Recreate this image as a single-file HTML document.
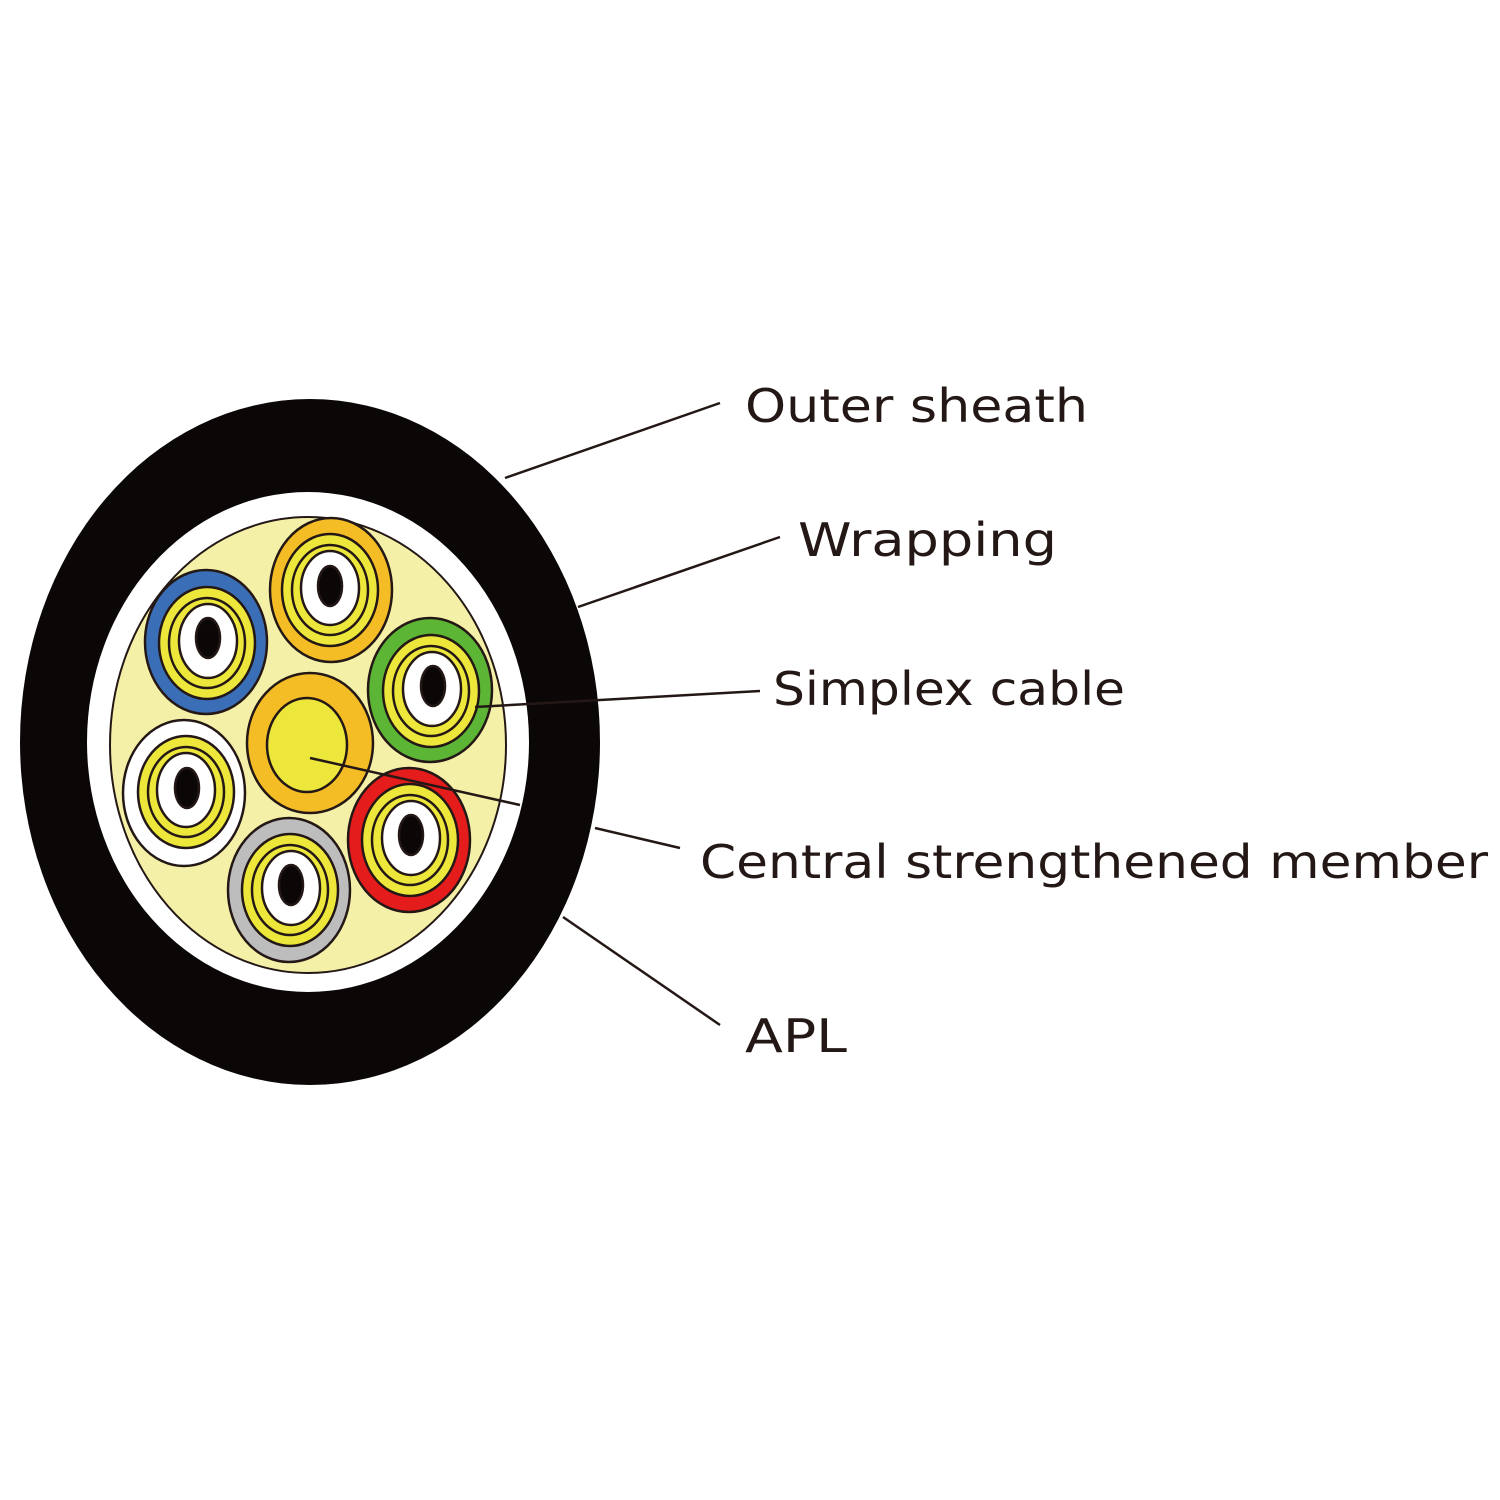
<!DOCTYPE html>
<html><head><style>body{margin:0;background:#fff}svg{display:block}</style></head><body>
<svg width="1500" height="1500" viewBox="0 0 1500 1500" xmlns="http://www.w3.org/2000/svg">
<ellipse cx="310" cy="742" rx="290" ry="343" fill="#0b0707"/>
<ellipse cx="308" cy="742" rx="221" ry="250" fill="#fff"/>
<ellipse cx="308" cy="745" rx="198" ry="228" fill="#f5f0a8" stroke="#231815" stroke-width="2"/>
<g stroke="#231815" stroke-width="2">
<g id="c">
</g>
</g>
<g stroke="#231815" stroke-width="2.5">
<!-- orange top -->
<ellipse cx="331" cy="590" rx="61" ry="72" fill="#f5bd25"/>
<ellipse cx="330" cy="590" rx="48" ry="56" fill="#ede73c"/>
<ellipse cx="330" cy="590" rx="38" ry="45" fill="none"/>
<ellipse cx="330" cy="588" rx="29" ry="37" fill="#fff"/>
<ellipse cx="330" cy="586" rx="12" ry="20" fill="#0b0707"/>
<!-- blue -->
<ellipse cx="206" cy="642" rx="61" ry="72" fill="#3a6fb8"/>
<ellipse cx="207" cy="643" rx="48" ry="56" fill="#ede73c"/>
<ellipse cx="207" cy="643" rx="38" ry="45" fill="none"/>
<ellipse cx="208" cy="641" rx="29" ry="37" fill="#fff"/>
<ellipse cx="208" cy="638" rx="12" ry="20" fill="#0b0707"/>
<!-- green -->
<ellipse cx="430" cy="690" rx="62" ry="72" fill="#5db535"/>
<ellipse cx="431" cy="691" rx="48" ry="56" fill="#ede73c"/>
<ellipse cx="431" cy="691" rx="38" ry="45" fill="none"/>
<ellipse cx="432" cy="689" rx="29" ry="37" fill="#fff"/>
<ellipse cx="433" cy="686" rx="12" ry="20" fill="#0b0707"/>
<!-- white -->
<ellipse cx="184" cy="793" rx="61" ry="73" fill="#fff"/>
<ellipse cx="186" cy="792" rx="48" ry="56" fill="#ede73c"/>
<ellipse cx="186" cy="792" rx="38" ry="45" fill="none"/>
<ellipse cx="186" cy="790" rx="29" ry="37" fill="#fff"/>
<ellipse cx="187" cy="788" rx="12" ry="20" fill="#0b0707"/>
<!-- gray -->
<ellipse cx="289" cy="890" rx="61" ry="72" fill="#bdbdbd"/>
<ellipse cx="290" cy="890" rx="48" ry="56" fill="#ede73c"/>
<ellipse cx="290" cy="890" rx="38" ry="45" fill="none"/>
<ellipse cx="291" cy="888" rx="29" ry="37" fill="#fff"/>
<ellipse cx="291" cy="885" rx="12" ry="20" fill="#0b0707"/>
<!-- red -->
<ellipse cx="409" cy="840" rx="61" ry="72" fill="#e41c1c"/>
<ellipse cx="410" cy="840" rx="48" ry="56" fill="#ede73c"/>
<ellipse cx="410" cy="840" rx="38" ry="45" fill="none"/>
<ellipse cx="411" cy="838" rx="29" ry="37" fill="#fff"/>
<ellipse cx="411" cy="835" rx="12" ry="20" fill="#0b0707"/>
<!-- center -->
<ellipse cx="310" cy="743" rx="63" ry="70" fill="#f5bd25"/>
<ellipse cx="307" cy="745" rx="40" ry="47" fill="#ede73c"/>
</g>
<g stroke="#231815" stroke-width="2.5" fill="none">
<line x1="505" y1="478" x2="720" y2="403"/>
<line x1="578" y1="607" x2="780" y2="537"/>
<line x1="475" y1="707" x2="760" y2="691"/>
<line x1="310" y1="758" x2="520" y2="805"/>
<line x1="595" y1="828" x2="680" y2="848"/>
<line x1="563" y1="917" x2="720" y2="1025"/>
</g>
<g font-family="DejaVu Sans, Liberation Sans, sans-serif" font-size="46" fill="#231815">
<text x="745" y="422" textLength="343" lengthAdjust="spacingAndGlyphs">Outer sheath</text>
<text x="798" y="556" textLength="259" lengthAdjust="spacingAndGlyphs">Wrapping</text>
<text x="773" y="705" textLength="352" lengthAdjust="spacingAndGlyphs">Simplex cable</text>
<text x="700" y="878" textLength="788" lengthAdjust="spacingAndGlyphs">Central strengthened member</text>
<text x="745" y="1052" textLength="102" lengthAdjust="spacingAndGlyphs">APL</text>
</g>
</svg>
</body></html>
